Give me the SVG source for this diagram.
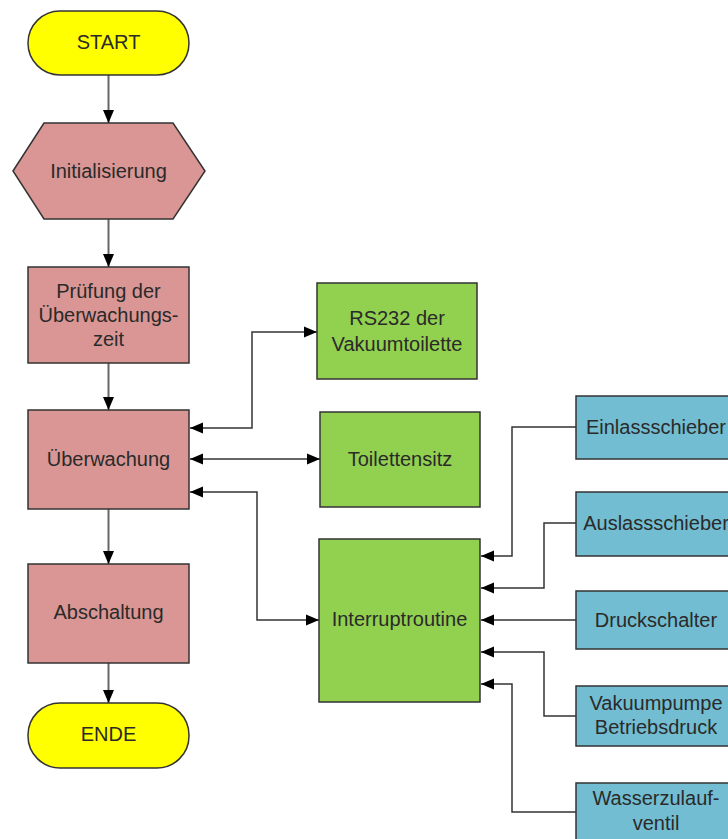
<svg xmlns="http://www.w3.org/2000/svg" width="728" height="839" viewBox="0 0 728 839">
<style>
  .n { stroke: #333; stroke-width: 1.5; }
  .term { fill: #FFFF00; }
  .proc { fill: #D99694; }
  .green { fill: #92D050; }
  .blue { fill: #72BDD1; }
  text { font-family: "Liberation Sans", Arial, sans-serif; font-size: 20px; fill: #2a2a2a; text-anchor: middle; dominant-baseline: central; }
  .flow { stroke: #666; stroke-width: 2; fill: none; }
  .c { stroke: #333; stroke-width: 1.5; fill: none; }
</style>
<defs>
  <marker id="ah" markerUnits="userSpaceOnUse" markerWidth="14" markerHeight="12" refX="13" refY="6" orient="auto-start-reverse" viewBox="0 0 14 12">
    <path d="M0,0.5 L13,6 L0,11.5 z" fill="#000"/>
  </marker>
</defs>
<rect width="728" height="839" fill="#fff"/>
<g id="connectors">
  <line class="flow" x1="108.5" y1="75" x2="108.5" y2="123" marker-end="url(#ah)"/>
  <line class="flow" x1="108.5" y1="219" x2="108.5" y2="267" marker-end="url(#ah)"/>
  <line class="flow" x1="108.5" y1="363" x2="108.5" y2="410" marker-end="url(#ah)"/>
  <line class="flow" x1="108.5" y1="509" x2="108.5" y2="564" marker-end="url(#ah)"/>
  <line class="flow" x1="108.5" y1="663" x2="108.5" y2="703" marker-end="url(#ah)"/>
  <path class="c" d="M190,428 H252 V332 H317" marker-start="url(#ah)" marker-end="url(#ah)"/>
  <path class="c" d="M190,459 H320" marker-start="url(#ah)" marker-end="url(#ah)"/>
  <path class="c" d="M190,492 H257 V620 H319" marker-start="url(#ah)" marker-end="url(#ah)"/>
  <path class="c" d="M576,427 H512 V556 H481" marker-end="url(#ah)"/>
  <path class="c" d="M576,523 H544 V588 H481" marker-end="url(#ah)"/>
  <path class="c" d="M576,620 H481" marker-end="url(#ah)"/>
  <path class="c" d="M576,716 H544 V652 H481" marker-end="url(#ah)"/>
  <path class="c" d="M576,812 H512 V684 H481" marker-end="url(#ah)"/>
</g>
<g id="start">
  <rect class="n term" x="28" y="11" width="161" height="64" rx="32" ry="32"/>
  <text x="108.5" y="42">START</text>
</g>
<g id="init">
  <polygon class="n proc" points="13,171 44,123 173,123 205,171 173,219 44,219"/>
  <text x="108.5" y="171">Initialisierung</text>
</g>
<g id="pruefung">
  <rect class="n proc" x="28" y="267" width="161" height="96"/>
  <text x="108.5" y="291">Prüfung der</text>
  <text x="108.5" y="315">Überwachungs-</text>
  <text x="108.5" y="339">zeit</text>
</g>
<g id="ueberwachung">
  <rect class="n proc" x="28" y="410" width="161" height="99"/>
  <text x="108.5" y="459">Überwachung</text>
</g>
<g id="abschaltung">
  <rect class="n proc" x="28" y="564" width="161" height="99"/>
  <text x="108.5" y="612">Abschaltung</text>
</g>
<g id="ende">
  <rect class="n term" x="28" y="703" width="161" height="65" rx="32" ry="32"/>
  <text x="108.5" y="734">ENDE</text>
</g>
<g id="rs232">
  <rect class="n green" x="317" y="283" width="160" height="96"/>
  <text x="397" y="318">RS232 der</text>
  <text x="397" y="344">Vakuumtoilette</text>
</g>
<g id="toilettensitz">
  <rect class="n green" x="320" y="412" width="160" height="95"/>
  <text x="400" y="459">Toilettensitz</text>
</g>
<g id="interruptroutine">
  <rect class="n green" x="319" y="539" width="161" height="163"/>
  <text x="399.5" y="619">Interruptroutine</text>
</g>
<g id="einlassschieber">
  <rect class="n blue" x="576" y="396" width="162" height="63"/>
  <text x="656" y="427">Einlassschieber</text>
</g>
<g id="auslassschieber">
  <rect class="n blue" x="576" y="492" width="162" height="64"/>
  <text x="656" y="523">Auslassschieber</text>
</g>
<g id="druckschalter">
  <rect class="n blue" x="576" y="591" width="162" height="58"/>
  <text x="656" y="620">Druckschalter</text>
</g>
<g id="vakuumpumpe">
  <rect class="n blue" x="576" y="686" width="162" height="60"/>
  <text x="656" y="703">Vakuumpumpe</text>
  <text x="656" y="727">Betriebsdruck</text>
</g>
<g id="wasserzulauf">
  <rect class="n blue" x="576" y="783" width="162" height="62"/>
  <text x="656" y="798">Wasserzulauf-</text>
  <text x="656" y="823">ventil</text>
</g>
</svg>
